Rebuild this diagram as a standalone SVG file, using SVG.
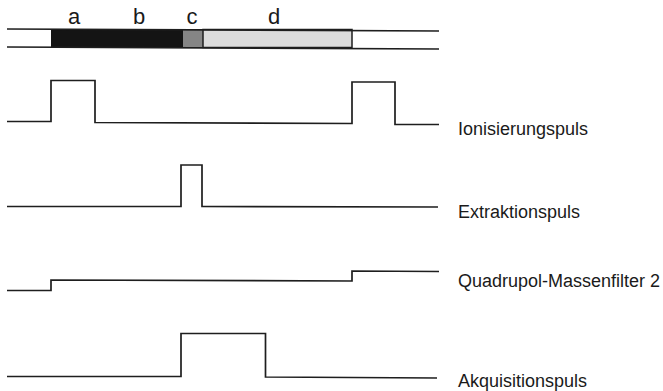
<svg xmlns="http://www.w3.org/2000/svg" width="663" height="391" viewBox="0 0 663 391">
<style>
.w{fill:none;stroke:#1e1e1e;stroke-width:1.7;stroke-linejoin:miter}
.lbl{font-family:"Liberation Sans",Arial,sans-serif;font-size:18px;fill:#1a1a1a}
.seg{font-family:"Liberation Sans",Arial,sans-serif;font-size:22px;fill:#1a1a1a;text-anchor:middle}
</style>
<rect width="663" height="391" fill="#fff"/>
<g id="bar">
<rect x="51" y="29" width="132" height="18" fill="#141414"/>
<rect x="183" y="29" width="20" height="18" fill="#858585"/>
<rect x="203" y="29.5" width="149" height="18" fill="#dcdcdc" stroke="#1e1e1e" stroke-width="1.5"/>
<line class="w" x1="7" y1="29" x2="439" y2="31"/>
<line class="w" x1="7" y1="47" x2="439" y2="49"/>
<text class="seg" x="74" y="24">a</text>
<text class="seg" x="139" y="24">b</text>
<text class="seg" x="192" y="24">c</text>
<text class="seg" x="274" y="24">d</text>
</g>
<g id="ionisierung">
<polyline class="w" points="7,121.5 51,121.5 51,80.5 95,80.5 95,122.5 352,123.5 352,82 395,82 395,124.5 439,124.5"/>
<text class="lbl" x="458" y="135">Ionisierungspuls</text>
</g>
<g id="extraktion">
<polyline class="w" points="7,206.5 181,206.5 181,165 202,165 202,206.5 438,207"/>
<text class="lbl" x="458" y="218">Extraktionspuls</text>
</g>
<g id="quadrupol">
<polyline class="w" points="7,290.5 51,290.5 51,280 352,281 352,271 439,271.5"/>
<text class="lbl" x="458" y="287">Quadrupol-Massenfilter 2</text>
</g>
<g id="akquisition">
<polyline class="w" points="7,376.5 181,376.5 181,333.5 265.5,333.5 265.5,377 437,378"/>
<text class="lbl" x="458" y="387">Akquisitionspuls</text>
</g>
</svg>
